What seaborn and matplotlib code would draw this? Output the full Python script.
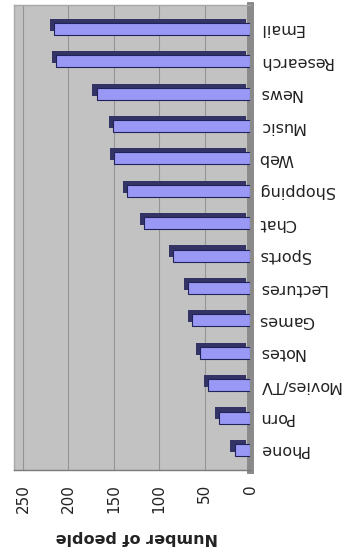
import matplotlib
matplotlib.use("Agg")
import matplotlib.pyplot as plt
import matplotlib.patheffects as pe
import pandas as pd
import seaborn as sns

activities = ["Email", "Research", "News", "Music", "Web", "Shopping", "Chat",
              "Sports", "Lectures", "Games", "Notes", "Movies/TV", "Porn", "Phone"]
people = [216, 214, 169, 151, 150, 135, 117, 85, 68, 64, 55, 46, 34, 17]
value_ticks = [0, 50, 100, 150, 200, 250]

df = pd.DataFrame({"activity": activities, "people": people})

sns.set_style("white")
plt.rcParams["font.family"] = ["DejaVu Sans"]

fig = plt.figure(figsize=(3.44, 5.59), dpi=100)
ax = fig.add_axes([14 / 344, 1 - 470 / 559, 236 / 344, 465 / 559])
ax.set_facecolor("#c2c2c2")

sns.barplot(data=df, x="people", y="activity", orient="h", ax=ax,
            color="#9999f5", saturation=1, width=0.37,
            edgecolor="#22225a", linewidth=0.8, zorder=3)

# fake 3d depth with a dark offset shadow
for bar in ax.patches:
    bar.set_path_effects([
        pe.SimplePatchShadow(offset=(-3, 3), shadow_rgbFace="#333366", alpha=1.0),
        pe.Normal(),
    ])

ax.set_xlim(260, 0)
ax.set_ylim(13.62, -0.74)
ax.set_xticks(value_ticks)
ax.set_xticklabels([str(v) for v in value_ticks], rotation=90, fontsize=11,
                   color="#222222")
ax.tick_params(axis="x", length=0, pad=10)
ax.xaxis.grid(True, color="#959595", linewidth=0.8)
ax.set_axisbelow(True)

ax.yaxis.tick_right()
ax.tick_params(axis="y", length=0, pad=6)
for lbl in ax.get_yticklabels():
    lbl.set_rotation(180)
    lbl.set_fontsize(11.5)
    lbl.set_color("#222222")
    lbl.set_ha("left")
    lbl.set_va("center")
ax.set_ylabel("")

ax.set_xlabel("Number of people", rotation=180, fontsize=11.5,
              fontweight="bold", color="#222222")
ax.xaxis.set_label_coords(0.52, -0.13)

for side in ["top", "left"]:
    ax.spines[side].set_color("#a8a8a8")
    ax.spines[side].set_linewidth(1)
ax.spines["bottom"].set_color("#7a7a7a")
ax.spines["bottom"].set_linewidth(1)
ax.spines["right"].set_color("#8a8a8a")
ax.spines["right"].set_linewidth(5)
ax.spines["right"].set_zorder(2)

fig.savefig("out.png", dpi=100)
